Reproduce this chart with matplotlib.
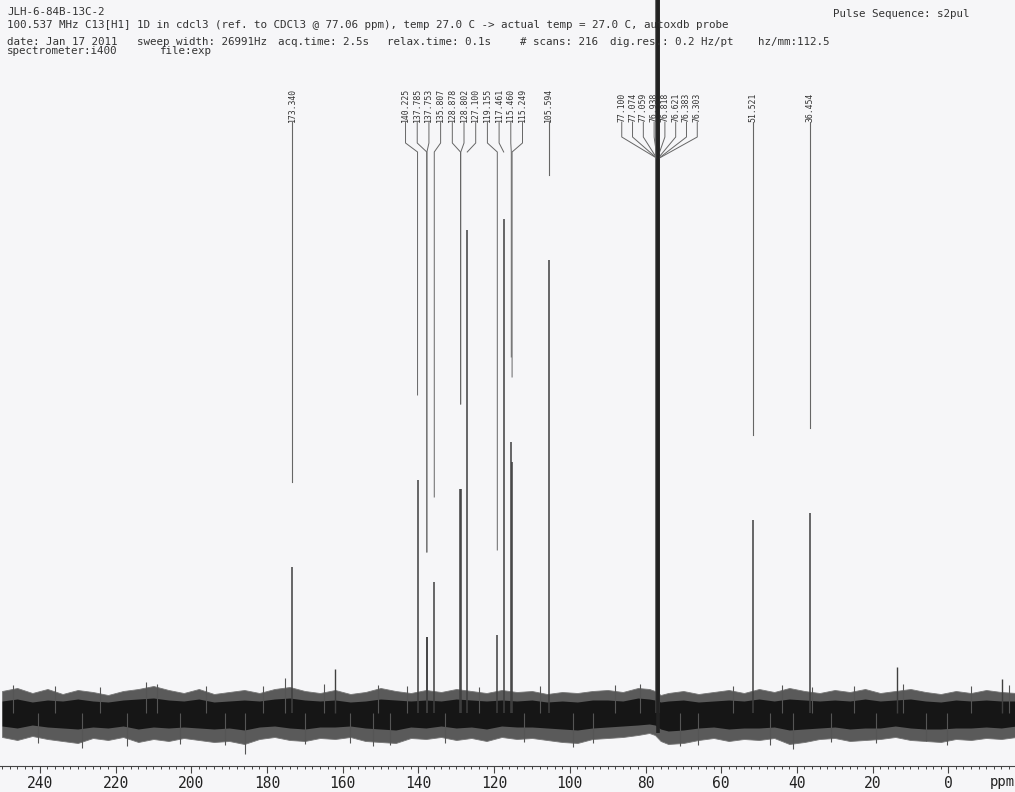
import numpy as np
import matplotlib
matplotlib.use('Agg')
import matplotlib.pyplot as plt
from matplotlib.ticker import MultipleLocator

# ---- spectrum data (ppm, intensity in arbitrary units, baseline = 0) ----
peak_ppm = [173.340, 140.225, 137.785, 137.753, 135.807, 128.878, 128.802, 127.100,
            119.155, 117.461, 115.460, 115.249, 105.594,
            77.100, 77.074, 77.059, 76.938, 76.818, 76.621, 76.383, 76.303,
            51.521, 36.454]
peak_height = [146, 233, 76, 76, 131, 224, 224, 483,
               78, 494, 271, 251, 453,
               950, 900, 950, 900, 950, 900, 900, 900,
               193, 200]

# small unlabelled signals
small_ppm = [162.0, 13.6, -14.1]
small_height = [44, 46, 34]

# label groups (bracketed labels) and single labels
group_a = ['140.225', '137.785', '137.753', '135.807', '128.878', '128.802',
           '127.100', '119.155', '117.461', '115.460', '115.249']
group_b = ['77.100', '77.074', '77.059', '76.938', '76.818', '76.621', '76.383', '76.303']
single_labels = ['173.340', '105.594', '51.521', '36.454']

# baseline noise envelope
noise_ppm = [250, 246, 242, 238, 234, 230, 226, 222, 218, 214, 210, 206, 202, 198,
             194, 190, 186, 182, 178, 174, 170, 166, 162, 158, 154, 150, 146, 142,
             138, 134, 130, 126, 122, 118, 114, 110, 106, 102, 98, 94, 90, 86, 82,
             79, 77.5, 76, 74, 70, 66, 62, 58, 54, 50, 46, 42, 38, 34, 30, 26, 22,
             18, 14, 10, 6, 2, -2, -6, -10, -14, -18]
noise_top = [22, 25, 20, 24, 19, 23, 21, 18, 22, 24, 27, 23, 20, 24,
             19, 21, 23, 20, 24, 26, 22, 20, 23, 19, 21, 25, 22, 20,
             23, 21, 24, 22, 20, 23, 21, 22, 19, 21, 20, 22, 23, 21, 25,
             24, 22, 18, 20, 22, 19, 21, 23, 20, 24, 21, 25, 22, 20, 23, 21, 24,
             20, 22, 24, 21, 19, 22, 20, 23, 21, 20]
noise_bottom = [-24, -27, -23, -26, -28, -30, -25, -27, -24, -29, -26, -28, -25, -27,
                -29, -28, -31, -26, -24, -27, -28, -25, -26, -24, -28, -29, -30, -25,
                -26, -24, -27, -25, -28, -24, -26, -25, -27, -29, -30, -26, -25, -24, -22,
                -20, -22, -28, -31, -30, -27, -25, -28, -26, -27, -25, -31, -29, -26, -25, -28,
                -27, -26, -24, -27, -28, -29, -26, -27, -25, -26, -24]
core_top = [12, 14, 11, 13, 12, 14, 12, 11, 13, 14, 15, 13, 12, 14,
            11, 12, 13, 12, 14, 15, 13, 12, 13, 11, 12, 14, 13, 12,
            13, 12, 14, 13, 12, 13, 12, 13, 11, 12, 11, 13, 13, 12, 15,
            14, 13, 11, 12, 13, 11, 12, 13, 12, 14, 12, 14, 13, 12, 13, 12, 14,
            12, 13, 14, 12, 11, 13, 12, 13, 12, 12]
core_bottom = [-13, -15, -12, -14, -15, -16, -14, -15, -13, -16, -14, -15, -14, -15,
               -16, -15, -17, -14, -13, -15, -16, -14, -14, -13, -15, -16, -17, -14,
               -15, -13, -15, -14, -16, -13, -14, -14, -15, -16, -17, -15, -14, -13, -12,
               -11, -12, -16, -18, -17, -15, -14, -16, -15, -15, -14, -17, -16, -15, -14, -16,
               -15, -15, -13, -15, -16, -16, -15, -15, -14, -15, -13]

# individual spikes standing out of the noise
spike_ppm = [247, 240.5, 236, 228.8, 224, 217, 212, 209, 203, 196, 191, 185.8, 181,
             175.2, 170, 165, 158, 152, 150.6, 147.5, 143, 133, 124, 112, 108, 99.2,
             94, 88, 81.4, 71, 66, 57, 47, 44, 41, 36, 31, 25, 19, 12, 6, 0.4, -6, -16]
spike_val = [28, -30, 27, -35, 26, -33, 31, 29, -31, 27, -32, -41, 27,
             35, -31, 29, -30, -33, 28, -32, 27, -30, 26, -29, 27, -34,
             -30, 28, 29, -33, -32, 27, -32, 28, -36, 26, -29, 27, -30, 29, -28, -32, 27, 28]

header = [
    'JLH-6-84B-13C-2',
    '100.537 MHz C13[H1] 1D in cdcl3 (ref. to CDCl3 @ 77.06 ppm), temp 27.0 C -> actual temp = 27.0 C, autoxdb probe',
]
line3 = ['date: Jan 17 2011', 'sweep width: 26991Hz', 'acq.time: 2.5s', 'relax.time: 0.1s',
         '# scans: 216', 'dig.res.: 0.2 Hz/pt', 'hz/mm:112.5']
line3_x = [7, 137, 278, 387, 520, 610, 758]
line4 = ['spectrometer:i400', 'file:exp']
line4_x = [7, 160]
pulse_seq = 'Pulse Sequence: s2pul'

# ---- figure ----
bg = '#f6f6f8'
ink = '#3f3f3f'
fig = plt.figure(figsize=(10.15, 7.92), dpi=100, facecolor=bg)
ax = fig.add_axes([0, 0, 1, 1], facecolor=bg)
ax.set_xlim(250.54, -17.62)
ax.set_ylim(-79, 713)

lookup = dict(zip(['%.3f' % p for p in peak_ppm], zip(peak_ppm, peak_height)))

# noise band
ax.fill_between(noise_ppm, noise_bottom, noise_top, color='#5a5a5a', lw=0.6,
                edgecolor='#777777', zorder=2)
ax.fill_between(noise_ppm, core_bottom, core_top, color='#161616', lw=0, zorder=3)
ax.vlines(spike_ppm, 0, spike_val, color='#555555', lw=0.8, zorder=3)

# peaks
ax.vlines(peak_ppm, 0, peak_height, color=ink, lw=1.1, zorder=4)
ax.vlines(small_ppm, 0, small_height, color=ink, lw=1.0, zorder=4)

# labels and leader lines
lab_bottom = 591
leader_gap = 85
lab_kw = dict(rotation=90, ha='center', va='bottom', fontsize=5.9,
              family='DejaVu Sans Mono', color='#333333')


def draw_group(labels, center, spacing, y_knee, y_join):
    n = len(labels)
    xs = [center + spacing * ((n - 1) / 2 - i) for i in range(n)]
    for lx, lab in zip(xs, labels):
        px, h = lookup[lab]
        ax.text(lx, lab_bottom, lab, **lab_kw)
        end = min(h + leader_gap, y_join)
        ax.plot([lx, lx, px, px], [lab_bottom, y_knee, y_join, end],
                color='#666666', lw=0.7, zorder=4)


draw_group(group_a, 127.95, 3.09, 570, 561)
draw_group(group_b, 76.3, 2.85, 576, 555)

for lab in single_labels:
    px, h = lookup[lab]
    ax.text(px, lab_bottom, lab, **lab_kw)
    ax.plot([px, px], [lab_bottom, h + leader_gap], color='#666666', lw=0.8, zorder=4)

# solvent peak drawn heavier
solvent = [p for p, h in zip(peak_ppm, peak_height) if 76 < p < 78]
ax.vlines(np.mean(solvent), -20, 713, color='#222222', lw=2.6, zorder=5)

# ppm axis
for s in ['top', 'left', 'right']:
    ax.spines[s].set_visible(False)
ax.spines['bottom'].set_position(('data', -53))
ax.spines['bottom'].set_color('#444444')
ax.spines['bottom'].set_linewidth(0.8)
ax.xaxis.set_major_locator(MultipleLocator(20))
ax.xaxis.set_minor_locator(MultipleLocator(2))
ax.tick_params(axis='x', which='major', length=5, width=0.8, color='#444444',
               pad=2, labelsize=10.5, labelcolor='#222222')
ax.tick_params(axis='x', which='minor', length=2.5, width=0.7, color='#444444')
for t in ax.get_xticklabels():
    t.set_family('DejaVu Sans Mono')
ax.set_yticks([])
ax.text(-11.0, -69, 'ppm', fontsize=10, family='DejaVu Sans Mono', color='#222222',
        va='center', ha='left')

# header text
hkw = dict(fontsize=7.8, family='DejaVu Sans Mono', color='#333333', va='center')
fig.text(7 / 1015, 1 - 12 / 792, header[0], **hkw)
fig.text(7 / 1015, 1 - 25 / 792, header[1], **hkw)
for x, s in zip(line3_x, line3):
    fig.text(x / 1015, 1 - 42 / 792, s, **hkw)
for x, s in zip(line4_x, line4):
    fig.text(x / 1015, 1 - 51 / 792, s, **hkw)
fig.text(833 / 1015, 1 - 14 / 792, pulse_seq, **hkw)

fig.savefig('out.png', dpi=100, facecolor=bg)
